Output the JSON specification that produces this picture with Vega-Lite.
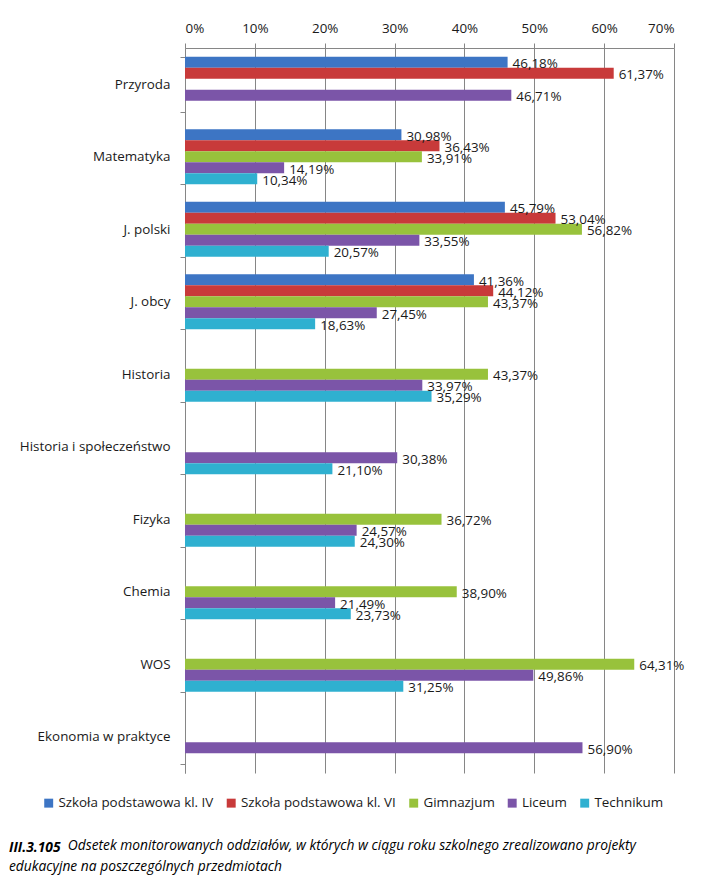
{
  "$schema": "https://vega.github.io/schema/vega-lite/v6.json",
  "width": 489,
  "height": 725,
  "padding": {"left": 5, "top": 5, "right": 5, "bottom": 5},
  "background": "white",
  "config": {
    "locale": {"number": {"decimal": ",", "thousands": " ", "grouping": [3], "currency": ["", " zł"]}},
    "view": {"stroke": null},
    "font": "Open Sans"
  },
  "title": {
    "text": "III.3.105",
    "subtitle": ["\u200b\u2003\u2003\u2003\u2003\u00a0Odsetek monitorowanych oddziałów, w których w ciągu roku szkolnego zrealizowano projekty", "edukacyjne na poszczególnych przedmiotach"],
    "orient": "bottom",
    "anchor": "start",
    "frame": "group",
    "dx": -176,
    "offset": 31,
    "font": "Open Sans",
    "fontSize": 13.8,
    "fontStyle": "italic",
    "fontWeight": "bold",
    "color": "#000000",
    "subtitleFont": "Open Sans",
    "subtitleFontSize": 13.8,
    "subtitleFontStyle": "italic",
    "subtitleFontWeight": "normal",
    "subtitleColor": "#000000",
    "subtitleLineHeight": 21,
    "subtitlePadding": -16
  },
  "data": {
    "values": [
      {"subject": "Przyroda", "school": "Szkoła podstawowa kl. IV", "value": 0.4618},
      {"subject": "Przyroda", "school": "Szkoła podstawowa kl. VI", "value": 0.6137},
      {"subject": "Przyroda", "school": "Liceum", "value": 0.4671},
      {"subject": "Matematyka", "school": "Szkoła podstawowa kl. IV", "value": 0.3098},
      {"subject": "Matematyka", "school": "Szkoła podstawowa kl. VI", "value": 0.3643},
      {"subject": "Matematyka", "school": "Gimnazjum", "value": 0.3391},
      {"subject": "Matematyka", "school": "Liceum", "value": 0.1419},
      {"subject": "Matematyka", "school": "Technikum", "value": 0.1034},
      {"subject": "J. polski", "school": "Szkoła podstawowa kl. IV", "value": 0.4579},
      {"subject": "J. polski", "school": "Szkoła podstawowa kl. VI", "value": 0.5304},
      {"subject": "J. polski", "school": "Gimnazjum", "value": 0.5682},
      {"subject": "J. polski", "school": "Liceum", "value": 0.3355},
      {"subject": "J. polski", "school": "Technikum", "value": 0.2057},
      {"subject": "J. obcy", "school": "Szkoła podstawowa kl. IV", "value": 0.4136},
      {"subject": "J. obcy", "school": "Szkoła podstawowa kl. VI", "value": 0.4412},
      {"subject": "J. obcy", "school": "Gimnazjum", "value": 0.4337},
      {"subject": "J. obcy", "school": "Liceum", "value": 0.2745},
      {"subject": "J. obcy", "school": "Technikum", "value": 0.1863},
      {"subject": "Historia", "school": "Gimnazjum", "value": 0.4337},
      {"subject": "Historia", "school": "Liceum", "value": 0.3397},
      {"subject": "Historia", "school": "Technikum", "value": 0.3529},
      {"subject": "Historia i społeczeństwo", "school": "Liceum", "value": 0.3038},
      {"subject": "Historia i społeczeństwo", "school": "Technikum", "value": 0.2110},
      {"subject": "Fizyka", "school": "Gimnazjum", "value": 0.3672},
      {"subject": "Fizyka", "school": "Liceum", "value": 0.2457},
      {"subject": "Fizyka", "school": "Technikum", "value": 0.2430},
      {"subject": "Chemia", "school": "Gimnazjum", "value": 0.3890},
      {"subject": "Chemia", "school": "Liceum", "value": 0.2149},
      {"subject": "Chemia", "school": "Technikum", "value": 0.2373},
      {"subject": "WOS", "school": "Gimnazjum", "value": 0.6431},
      {"subject": "WOS", "school": "Liceum", "value": 0.4986},
      {"subject": "WOS", "school": "Technikum", "value": 0.3125},
      {"subject": "Ekonomia w praktyce", "school": "Liceum", "value": 0.5690}
    ]
  },
  "encoding": {
    "y": {
      "field": "subject",
      "type": "nominal",
      "sort": ["Przyroda", "Matematyka", "J. polski", "J. obcy", "Historia", "Historia i społeczeństwo", "Fizyka", "Chemia", "WOS", "Ekonomia w praktyce"],
      "scale": {"paddingInner": 0.24, "paddingOuter": 0.12},
      "axis": {
        "title": null,
        "tickBand": "extent",
        "domainColor": "#868686",
        "tickColor": "#868686",
        "tickSize": 5,
        "labelPadding": 10,
        "labelFont": "Open Sans",
        "labelFontSize": 13.4,
        "labelColor": "#1a1a1a",
        "minExtent": 180,
        "maxExtent": 180,
        "grid": false
      }
    },
    "yOffset": {
      "field": "school",
      "type": "nominal",
      "scale": {"domain": ["Szkoła podstawowa kl. IV", "Szkoła podstawowa kl. VI", "Gimnazjum", "Liceum", "Technikum"], "paddingInner": 0, "paddingOuter": 0}
    },
    "x": {
      "field": "value",
      "type": "quantitative",
      "scale": {"domain": [0, 0.7], "nice": false},
      "axis": {
        "orient": "top",
        "title": null,
        "format": ".0%",
        "values": [0, 0.1, 0.2, 0.3, 0.4, 0.5, 0.6, 0.7],
        "grid": true,
        "gridColor": "#868686",
        "gridWidth": 1,
        "domainColor": "#868686",
        "tickColor": "#868686",
        "tickSize": 5,
        "labelPadding": 8,
        "labelFont": "Open Sans",
        "labelFontSize": 13.4,
        "labelColor": "#1a1a1a",
        "minExtent": 43,
        "maxExtent": 43
      }
    }
  },
  "layer": [
    {
      "mark": {"type": "bar", "cornerRadius": 0},
      "encoding": {
        "color": {
          "field": "school",
          "type": "nominal",
          "scale": {
            "domain": ["Szkoła podstawowa kl. IV", "Szkoła podstawowa kl. VI", "Gimnazjum", "Liceum", "Technikum"],
            "range": ["#3d75c4", "#c83a3a", "#98c23c", "#7b55a8", "#2fb0d0"]
          },
          "legend": {
            "title": null,
            "orient": "none",
            "direction": "horizontal",
            "legendX": -143,
            "legendY": 748,
            "symbolType": "square",
            "symbolSize": 80,
            "symbolStrokeWidth": 0,
            "labelFont": "Open Sans",
            "labelFontSize": 13.4,
            "labelColor": "#1a1a1a",
            "labelOffset": 3,
            "columnPadding": 10.5,
            "labelLimit": 300
          }
        }
      }
    },
    {
      "mark": {"type": "text", "align": "left", "baseline": "middle", "dx": 5, "dy": 2, "font": "Open Sans", "fontSize": 13.4, "color": "#1a1a1a"},
      "encoding": {
        "text": {"field": "value", "type": "quantitative", "format": ".2%"}
      }
    }
  ]
}
